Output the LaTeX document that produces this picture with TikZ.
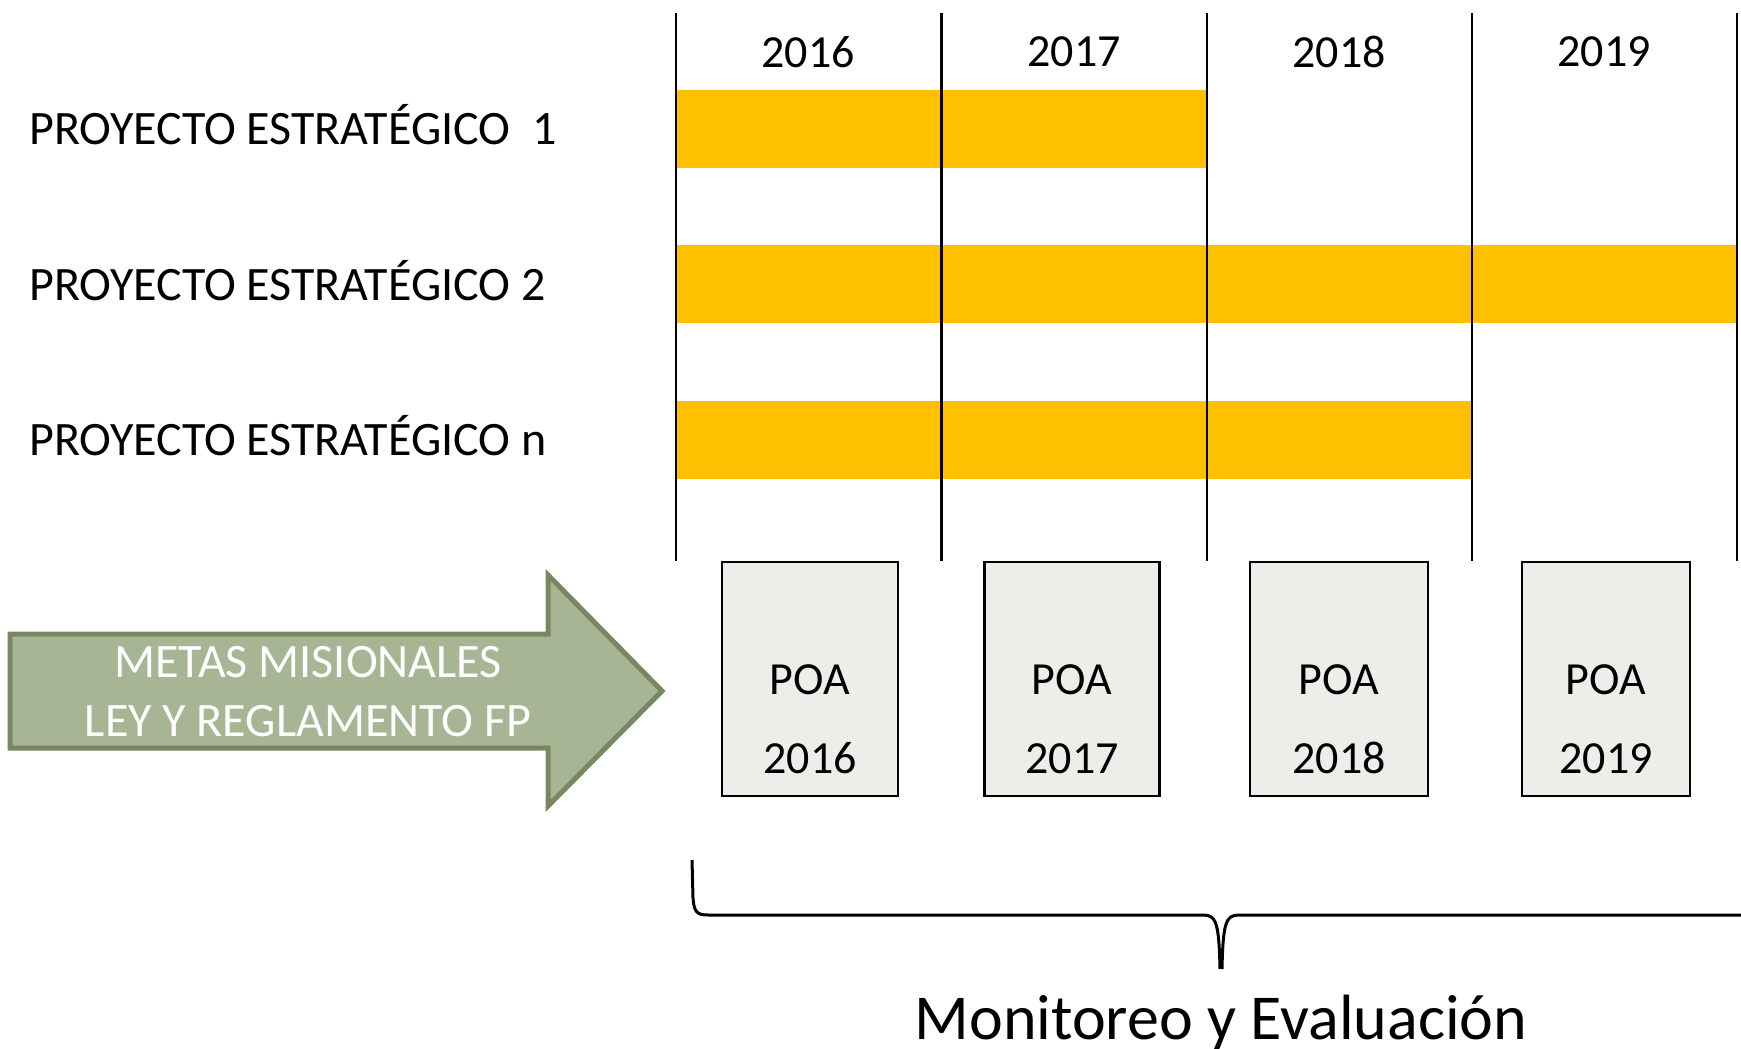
\documentclass[tikz,border=0pt]{standalone}
\usepackage{fontspec}
\setmainfont{Carlito}
\definecolor{bargold}{HTML}{FFC000}
\definecolor{boxfill}{HTML}{ECEFE9}
\definecolor{arrowfill}{HTML}{A8B594}
\definecolor{arrowline}{HTML}{77875F}
\begin{document}
\begin{tikzpicture}[x=1pt,y=-1pt,
  txt/.style={font=\fontsize{46}{55}\selectfont, inner sep=0pt},
  lbltxt/.style={font=\fontsize{48}{57}\selectfont, inner sep=0pt},
  bigtxt/.style={font=\fontsize{64}{76}\selectfont, inner sep=0pt},
  gridline/.style={line width=2.8pt, black},
  bar/.style={fill=bargold},
  poabox/.style={draw=black, line width=2.6pt, fill=boxfill, minimum height=234pt, inner sep=0pt},
  wtxt/.style={lbltxt, text=white}
]
\useasboundingbox (0,0) rectangle (1741,1049);
% bars
\fill[bar] (676,90) rectangle (1207,168);
\fill[bar] (676,245) rectangle (1737,323);
\fill[bar] (676,401) rectangle (1472,479);
% vertical grid lines
\foreach \x in {676,941.5,1207,1472,1737}{
  \draw[gridline] (\x,13) -- (\x,561);
}
% year labels
\node[txt] (y2016) at (808,52) {2016};
\node[txt] (y2017) at (1074,52) {2017};
\node[txt] (y2018) at (1339,52) {2018};
\node[txt] (y2019) at (1604,52) {2019};
% project labels
\node[lbltxt, anchor=base west] (p1) at (29,144) {PROYECTO ESTRATÉGICO\ \ 1};
\node[lbltxt, anchor=base west] (p2) at (29,300) {PROYECTO ESTRATÉGICO 2};
\node[lbltxt, anchor=base west] (pn) at (29,455) {PROYECTO ESTRATÉGICO n};
% POA boxes
\node[poabox, minimum width=176pt] (poa1) at (810,679) {};
\node[poabox, minimum width=175pt] (poa2) at (1072,679) {};
\node[poabox, minimum width=178pt] (poa3) at (1339,679) {};
\node[poabox, minimum width=168pt] (poa4) at (1606,679) {};
\foreach \b/\yr in {poa1/2016,poa2/2017,poa3/2018,poa4/2019}{
  \node[txt, anchor=base] at ([yshift=-15pt]\b.center) {POA};
  \node[txt, anchor=base] at ([yshift=-94pt]\b.center) {\yr};
}
% big arrow
\draw[line width=5pt, draw=arrowline, fill=arrowfill, line join=miter]
  (10,634) -- (548,634) -- (548,575) -- (662,691) -- (548,806) -- (548,748) -- (10,748) -- cycle;
\node[wtxt, anchor=base] (m1) at (308,677) {METAS MISIONALES};
\node[wtxt, anchor=base] (m2) at (308,736) {LEY Y REGLAMENTO FP};
% brace
\draw[line width=3pt, line join=round]
  (692,860) -- (693,898) .. controls (694,912) and (697,915) .. (708,915)
  -- (1203,915) .. controls (1216,915) and (1219,922) .. (1220,969)
  (1222,969) .. controls (1223,922) and (1226,915) .. (1239,915) -- (1745,915);
\node[bigtxt, anchor=base] (me) at (1221,1039) {Monitoreo y Evaluación};
\end{tikzpicture}
\end{document}
